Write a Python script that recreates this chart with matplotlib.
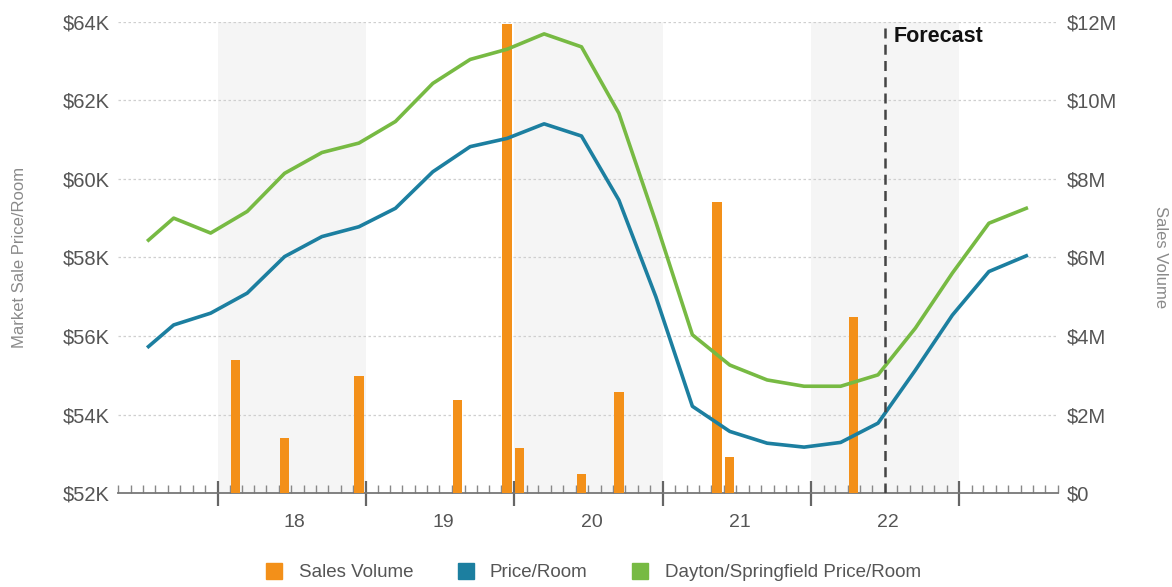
import matplotlib
matplotlib.use("Agg")
import matplotlib.pyplot as plt
import matplotlib.dates as mdates
from matplotlib.lines import Line2D
from matplotlib.ticker import FuncFormatter, FixedLocator
import pandas as pd

plt.rcParams['font.family'] = ['Liberation Sans', 'DejaVu Sans']

# Quarterly price series (thousands of dollars per room)
quarter_dates = ['2017-07-15', '2017-09-15', '2017-12-15', '2018-03-15', '2018-06-15',
                 '2018-09-15', '2018-12-15', '2019-03-15', '2019-06-15', '2019-09-15',
                 '2019-12-15', '2020-03-15', '2020-06-15', '2020-09-15', '2020-12-15',
                 '2021-03-15', '2021-06-15', '2021-09-15', '2021-12-15', '2022-03-15',
                 '2022-06-15', '2022-09-15', '2022-12-15', '2023-03-15', '2023-06-15']
price_room = [55.73, 56.28, 56.58, 57.09, 58.02, 58.53, 58.78, 59.25, 60.18, 60.82,
              61.03, 61.40, 61.09, 59.46, 57.00, 54.21, 53.57, 53.27, 53.17, 53.29,
              53.78, 55.13, 56.53, 57.64, 58.04]
market_price_room = [58.44, 59.00, 58.62, 59.17, 60.14, 60.67, 60.91, 61.46, 62.43, 63.04,
                     63.30, 63.69, 63.36, 61.67, 58.90, 56.03, 55.26, 54.88, 54.72, 54.72,
                     55.01, 56.20, 57.60, 58.87, 59.25]

# Monthly transaction volume (millions of dollars)
sale_dates = ['2018-02-15', '2018-06-15', '2018-12-15', '2019-08-15', '2019-12-15',
              '2020-01-15', '2020-06-15', '2020-09-15', '2021-05-15', '2021-06-15',
              '2022-04-15']
sales_volume = [3.38, 1.39, 2.98, 2.38, 11.95, 1.14, 0.48, 2.58, 7.41, 0.91, 4.49]

year_labels = ['18', '19', '20', '21', '22']
shaded_years = [2018, 2020, 2022]
forecast_start = '2022-07-01'
x_range = ('2017-05-01', '2023-09-01')

ORANGE = '#F39019'
BLUE = '#1C7FA0'
GREEN = '#77BA43'
TICK_GRAY = '#555555'
LABEL_GRAY = '#8a8a8a'

qd = pd.to_datetime(quarter_dates)
sd = pd.to_datetime(sale_dates)

fig = plt.figure(figsize=(11.72, 5.87), dpi=100)
ax_vol = fig.add_axes([0.1007, 0.160, 0.802, 0.803])
ax = ax_vol.twinx()
ax.set_zorder(ax_vol.get_zorder() + 1)
ax.patch.set_visible(False)

# background bands for alternating years
for yr in shaded_years:
    ax_vol.axvspan(pd.Timestamp(f'{yr}-01-01'), pd.Timestamp(f'{yr + 1}-01-01'),
                   color='#f5f5f5', zorder=0, lw=0)

# sales volume bars
ax_vol.bar(sd, sales_volume, width=23, color=ORANGE, zorder=3)
ax_vol.set_ylim(0, 12)
ax_vol.yaxis.set_major_locator(FixedLocator([0, 2, 4, 6, 8, 10, 12]))
ax_vol.yaxis.set_major_formatter(FuncFormatter(lambda v, p: '$0' if v == 0 else f'${v:.0f}M'))
ax_vol.yaxis.tick_right()
ax_vol.yaxis.set_label_position('right')
for y in [2, 4, 6, 8, 10, 12]:
    ax_vol.axhline(y, color='#cfcfcf', lw=0.9, ls=(0, (2, 2)), zorder=1)

# price lines
ax.plot(qd, market_price_room, color=GREEN, lw=2.6, zorder=4, solid_joinstyle='round')
ax.plot(qd, price_room, color=BLUE, lw=2.6, zorder=4, solid_joinstyle='round')
ax.set_ylim(52, 64)
ax.yaxis.set_major_locator(FixedLocator([52, 54, 56, 58, 60, 62, 64]))
ax.yaxis.set_major_formatter(FuncFormatter(lambda v, p: f'${v:.0f}K'))
ax.yaxis.tick_left()

# forecast marker
fx = pd.Timestamp(forecast_start)
ax.axvline(fx, color='#444444', lw=1.8, ls=(0, (4, 2.5)), zorder=5)
ax.text(fx + pd.Timedelta(days=22), 63.62, 'Forecast', fontsize=15.5, fontweight='bold',
        color='#111111', va='center', ha='left', zorder=6)

# x axis: year boundaries and monthly minor ticks
ax_vol.set_xlim(pd.Timestamp(x_range[0]), pd.Timestamp(x_range[1]))
ax_vol.xaxis.set_major_locator(mdates.YearLocator())
ax_vol.xaxis.set_minor_locator(mdates.MonthLocator())
ax_vol.xaxis.set_major_formatter(FuncFormatter(lambda v, p: ''))
ax_vol.tick_params(axis='x', which='major', direction='inout', length=18, width=1.6,
                   color='#666666')
ax_vol.tick_params(axis='x', which='minor', direction='in', length=6, width=1.0,
                   color='#888888')
for i, lab in enumerate(year_labels):
    ax_vol.text(pd.Timestamp(f'{2018 + i}-07-10'), -0.062, lab,
                transform=ax_vol.get_xaxis_transform(),
                ha='center', va='center', fontsize=14, color=TICK_GRAY)

for a in (ax, ax_vol):
    for side in ('left', 'right', 'top'):
        a.spines[side].set_visible(False)
ax.spines['bottom'].set_visible(False)
ax_vol.spines['bottom'].set_color('#777777')
ax_vol.spines['bottom'].set_linewidth(1.3)
ax.tick_params(axis='y', length=0, pad=6, labelsize=14.5, labelcolor=TICK_GRAY)
ax_vol.tick_params(axis='y', length=0, pad=6, labelsize=14.5, labelcolor=TICK_GRAY)

fig.text(0.017, 0.562, 'Market Sale Price/Room', rotation=90, ha='center', va='center',
         fontsize=12, color=LABEL_GRAY)
fig.text(0.99, 0.562, 'Sales Volume', rotation=270, ha='center', va='center',
         fontsize=12, color=LABEL_GRAY)

handles = [Line2D([], [], marker='s', ls='none', ms=11, color=c) for c in (ORANGE, BLUE, GREEN)]
leg = fig.legend(handles, ['Sales Volume', 'Price/Room', 'Dayton/Springfield Price/Room'],
                 loc='center', bbox_to_anchor=(0.505, 0.024), ncol=3, frameon=False,
                 fontsize=13.5, handletextpad=0.7, columnspacing=2.2, handlelength=1.2)
for t in leg.get_texts():
    t.set_color(TICK_GRAY)

fig.savefig('out.png', dpi=100)
